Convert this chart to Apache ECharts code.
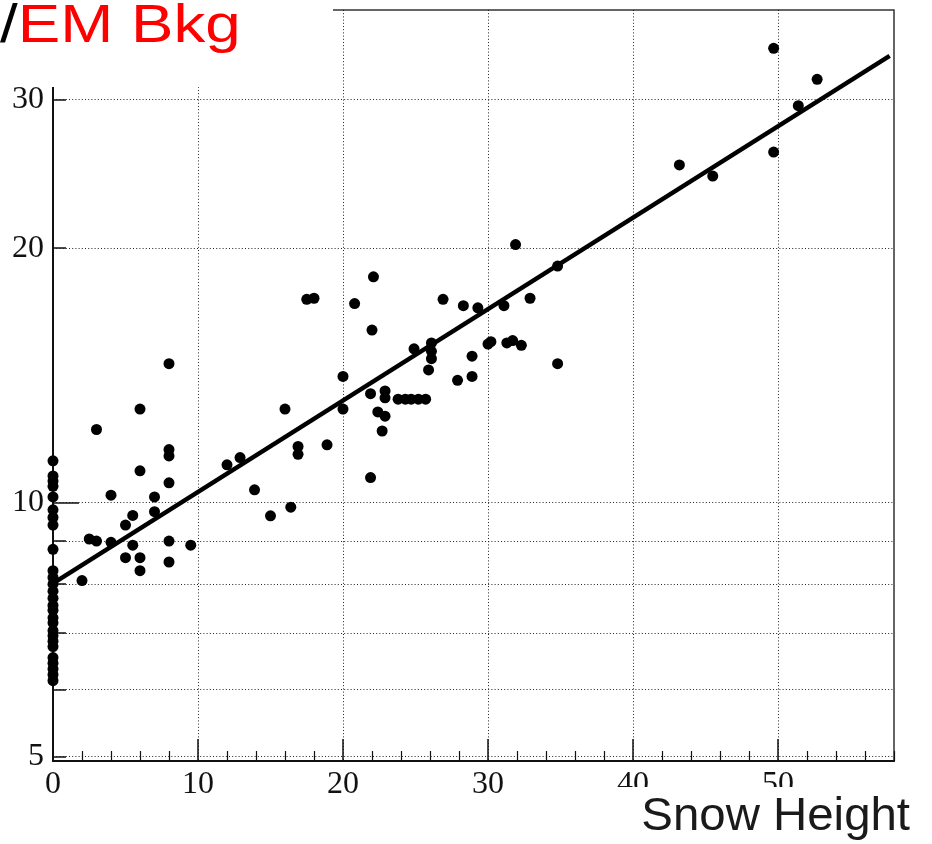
<!DOCTYPE html>
<html>
<head>
<meta charset="utf-8">
<title>EM background vs snow height</title>
<script src="https://cdn.jsdelivr.net/npm/echarts@6/dist/echarts.min.js"></script>
<style>
  html, body { margin: 0; padding: 0; background: #fff; }
  #chart { width: 932px; height: 844px; }
</style>
</head>
<body>
<div id="chart"></div>
<script>
// Snow height (x) and EM background ratio (y) for each measurement
const snowHeight = [
  0, 0, 0, 0, 0, 0, 0, 0, 0, 0, 0, 0, 0, 0, 0, 0, 0, 0, 0, 0, 0, 0, 0, 0, 0, 0, 0,
  2, 2.5, 3, 3, 4, 4, 5, 5, 5.5, 5.5, 6, 6, 6, 6, 7, 7, 8, 8, 8, 8, 8, 8, 9.5,
  12, 12.9, 13.9, 15, 16, 16.4, 16.9, 16.9, 17.5, 18, 18.9, 20, 20, 20.8,
  21.9, 21.9, 22, 22.1, 22.4, 22.7, 22.9, 22.9, 22.9,
  23.8, 24.3, 24.7, 25.2, 25.7, 24.9, 25.9, 26.1, 26.1, 26.1, 26.9, 27.9,
  28.3, 28.9, 28.9, 29.3, 30, 30.2, 31.1, 31.3, 31.7, 31.9, 32.3, 32.9,
  34.8, 34.8, 43.2, 45.5, 49.7, 49.7, 51.4, 52.7
];
const emBkg = [
  11.2, 10.75, 10.6, 10.45, 10.15, 9.8, 9.6, 9.4, 8.8, 8.3, 8.15, 8.0, 7.85, 7.7,
  7.55, 7.45, 7.3, 7.2, 7.05, 6.95, 6.85, 6.75, 6.55, 6.45, 6.35, 6.25, 6.15,
  8.08, 9.05, 9.0, 12.2, 10.2, 8.97, 9.4, 8.6, 9.65, 8.9, 12.9, 10.9, 8.6, 8.3,
  10.15, 9.75, 14.6, 11.55, 11.35, 10.55, 9.0, 8.5, 8.9,
  11.08, 11.3, 10.35, 9.64, 12.9, 9.87, 11.65, 11.4, 17.4, 17.45, 11.7, 14.1, 12.9, 17.2,
  13.45, 10.7, 16.0, 18.5, 12.8, 12.15, 12.65, 13.55, 13.3,
  13.25, 13.25, 13.25, 13.25, 13.25, 15.2, 14.35, 15.45, 15.1, 14.8, 17.4, 13.95,
  17.1, 14.9, 14.1, 17.0, 15.4, 15.5, 17.1, 15.45, 15.55, 20.2, 15.35, 17.45,
  19.05, 14.6, 25.1, 24.35, 34.5, 26.0, 29.5, 31.7
];

// Exponential fit, drawn as a straight segment on the log axis
const fitX = [0, 57.7];
const fitY = [8.02, 33.8];

// Axis ranges and tick values
const xRange = [0, 58];
const yRange = [4.94, 38.3];
const xMajorTicks = [0, 10, 20, 30, 40, 50];
const yLabelTicks = [5, 10, 20, 30];
const yGridTicks = [5, 6, 7, 8, 9, 10, 20, 30];
const yLongTicks = [10];

const xMinorTicks = [];
for (let v = 2; v <= xRange[1]; v += 2) {
  if (v % 10 !== 0) xMinorTicks.push(v);
}

const points = snowHeight.map((x, i) => [x, emBkg[i]]);
const fitLine = fitX.map((x, i) => [x, fitY[i]]);

const labelFont = { fontFamily: 'Liberation Serif', fontSize: 32, color: '#111' };
const dotted = { color: '#222', width: 1, type: [1, 2.2] };

const chart = echarts.init(document.getElementById('chart'), null, { renderer: 'canvas' });

chart.setOption({
  animation: false,
  backgroundColor: '#ffffff',
  grid: {
    left: 53, top: 10, right: 38, bottom: 83,
    show: true, borderColor: '#333', borderWidth: 1.5, backgroundColor: 'transparent'
  },
  xAxis: [
    {
      type: 'value', min: xRange[0], max: xRange[1], position: 'bottom',
      axisLine: { show: true, onZero: false, lineStyle: { color: '#111', width: 2 } },
      axisTick: { show: true, inside: true, length: 22, customValues: xMajorTicks,
                  lineStyle: { color: '#111', width: 1.5 } },
      axisLabel: { show: true, customValues: xMajorTicks, margin: 8, ...labelFont },
      splitLine: { show: true, lineStyle: dotted },
      minorTick: { show: false }, minorSplitLine: { show: false }
    },
    {
      type: 'value', min: xRange[0], max: xRange[1], position: 'bottom',
      axisLine: { show: false, onZero: false },
      axisTick: { show: true, inside: true, length: 10, customValues: xMinorTicks,
                  lineStyle: { color: '#111', width: 1.2 } },
      axisLabel: { show: false },
      splitLine: { show: false }
    }
  ],
  yAxis: [
    {
      type: 'log', logBase: 10, min: yRange[0], max: yRange[1], position: 'left',
      axisLine: { show: true, onZero: false, lineStyle: { color: '#111', width: 2 } },
      axisTick: { show: true, inside: true, length: 13, customValues: yGridTicks,
                  lineStyle: { color: '#111', width: 1.5 } },
      axisLabel: { show: true, customValues: yLabelTicks, margin: 9, ...labelFont },
      splitLine: { show: true, lineStyle: dotted },
      minorTick: { show: false }, minorSplitLine: { show: false }
    },
    {
      type: 'log', logBase: 10, min: yRange[0], max: yRange[1], position: 'left',
      axisLine: { show: false, onZero: false },
      axisTick: { show: true, inside: true, length: 26, customValues: yLongTicks,
                  lineStyle: { color: '#111', width: 1.5 } },
      axisLabel: { show: false },
      splitLine: { show: false }
    }
  ],
  series: [
    {
      type: 'scatter', xAxisIndex: 0, yAxisIndex: 0,
      data: points, symbol: 'circle', symbolSize: 11,
      itemStyle: { color: '#000', opacity: 1 }, z: 3
    },
    {
      type: 'line', xAxisIndex: 0, yAxisIndex: 0,
      data: fitLine, symbol: 'none', smooth: false,
      lineStyle: { color: '#000', width: 4.5, opacity: 1 }, z: 4
    }
  ],
  graphic: [
    { type: 'rect', z: 100, shape: { x: 0, y: 0, width: 333, height: 87 },
      style: { fill: '#fff' } },
    { type: 'rect', z: 100, shape: { x: 600, y: 787, width: 332, height: 57 },
      style: { fill: '#fff' } },
    { type: 'text', z: 101, x: 0, y: 0, scaleX: 1.18,
      style: {
        text: '{s|/}{r|EM Bkg}',
        rich: {
          s: { fontFamily: 'Liberation Sans', fontSize: 54, fill: '#000' },
          r: { fontFamily: 'Liberation Sans', fontSize: 54, fill: '#ff0000' }
        }
      } },
    { type: 'text', z: 101, x: 910, y: 794, scaleX: 1.03,
      style: { text: 'Snow Height', fontFamily: 'Liberation Sans', fontSize: 46,
               fill: '#1a1a1a', align: 'right' } }
  ]
});
</script>
</body>
</html>
